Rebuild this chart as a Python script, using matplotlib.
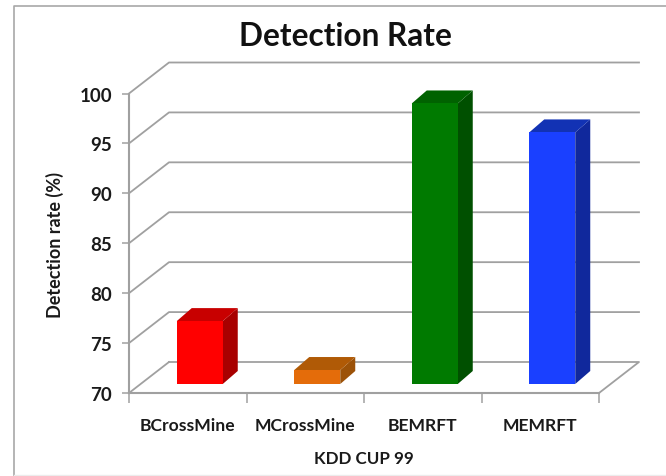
#!/usr/bin/env python3
"""Detection rate bar chart, drawn with fake 3D depth."""

import matplotlib
matplotlib.use('Agg')
import matplotlib.pyplot as plt
from matplotlib.patches import Polygon, Rectangle

categories = ['BCrossMine', 'MCrossMine', 'BEMRFT', 'MEMRFT']
detection_rate = [76.3, 71.4, 98.1, 95.2]
y_ticks = [70, 75, 80, 85, 90, 95, 100]

front_colors = ['#ff0000', '#e46c0a', '#007a00', '#1a40ff']
top_colors = ['#c80000', '#b05a06', '#006200', '#1232b4']
side_colors = ['#a80000', '#9c5208', '#005000', '#10289c']

W, H = 666, 477
LEFT, RIGHT, TOP, BOTTOM = 129, 599, 94.5, 394  # plot box in pixels

plt.rcParams['font.family'] = ['Lato', 'DejaVu Sans']
plt.rcParams['font.weight'] = 'bold'

fig = plt.figure(figsize=(W / 100, H / 100), dpi=100)
ax = fig.add_axes([LEFT / W, 1 - BOTTOM / H, (RIGHT - LEFT) / W, (BOTTOM - TOP) / H])
ax.set_xlim(0, len(categories))
ax.set_ylim(y_ticks[0], y_ticks[-1])
ax.patch.set_visible(False)

# pixel -> data scale
px_x = len(categories) / (RIGHT - LEFT)
px_y = (y_ticks[-1] - y_ticks[0]) / (BOTTOM - TOP)

GRAY = '#a0a0a0'
LW = 1.3
back_dx, back_dy = 40 * px_x, 31 * px_y

# back wall gridlines and the diagonals to the front axis
for v in y_ticks:
    ax.plot([0, back_dx, len(categories) + back_dx if v > y_ticks[0] else back_dx],
            [v, v + back_dy, v + back_dy], color=GRAY, lw=LW, clip_on=False, zorder=1)
ax.plot([len(categories), len(categories) + back_dx, back_dx],
        [y_ticks[0], y_ticks[0] + back_dy, y_ticks[0] + back_dy],
        color=GRAY, lw=LW, clip_on=False, zorder=1)

bar_w = 46 * px_x
shift_x, shift_y = 12 * px_x, 9 * px_y
depth_x, depth_y = 15 * px_x, 13 * px_y
for i, val in enumerate(detection_rate):
    x0 = i + 0.5 + shift_x - bar_w / 2
    x1 = x0 + bar_w
    y0 = y_ticks[0] + shift_y
    y1 = val + shift_y
    ax.add_patch(Polygon([(x1, y0), (x1 + depth_x, y0 + depth_y), (x1 + depth_x, y1 + depth_y), (x1, y1)],
                         fc=side_colors[i], ec='none', clip_on=False, zorder=3))
    ax.add_patch(Polygon([(x0, y1), (x1, y1), (x1 + depth_x, y1 + depth_y), (x0 + depth_x, y1 + depth_y)],
                         fc=top_colors[i], ec='none', clip_on=False, zorder=3))
    ax.add_patch(Rectangle((x0, y0), bar_w, y1 - y0, fc=front_colors[i], ec='none', clip_on=False, zorder=4))

for side in ['top', 'right']:
    ax.spines[side].set_visible(False)
for side in ['left', 'bottom']:
    ax.spines[side].set_color(GRAY)
    ax.spines[side].set_linewidth(1.5)

ax.set_yticks(y_ticks)
ax.set_xticks(range(len(categories) + 1))
ax.set_xticklabels([])
ax.set_xticks([i + 0.5 for i in range(len(categories))], categories, minor=True)
ax.tick_params(axis='x', which='major', color=GRAY, length=7, width=1.1)
ax.tick_params(axis='x', which='minor', length=0, pad=17, labelsize=12.6, labelcolor='#1a1a1a')
ax.tick_params(axis='y', color=GRAY, length=5, width=1.1, pad=7, labelsize=13.5, labelcolor='#1a1a1a')

fig.text(345 / W, 1 - 37 / H, 'Detection Rate', fontsize=22.8, ha='center', va='center', color='#111111')
fig.text(55 / W, 1 - 245 / H, 'Detection rate (%)', fontsize=13, rotation=90,
         ha='center', va='center', color='#1a1a1a')
fig.text(364 / W, 1 - 459 / H, 'KDD CUP 99', fontsize=12.2, ha='center', va='center', color='#1a1a1a')

# outer chart frame, the bottom edge is barely visible
fig.add_artist(plt.Line2D([13.5 / W, 13.5 / W, 1], [0, 1 - 7 / H, 1 - 7 / H], color='#a8a8a8', lw=1.2))
fig.add_artist(plt.Line2D([13.5 / W, 1], [1 - 476 / H, 1 - 476 / H], color='#ececec', lw=1.0))

fig.savefig('out.png', dpi=100)
